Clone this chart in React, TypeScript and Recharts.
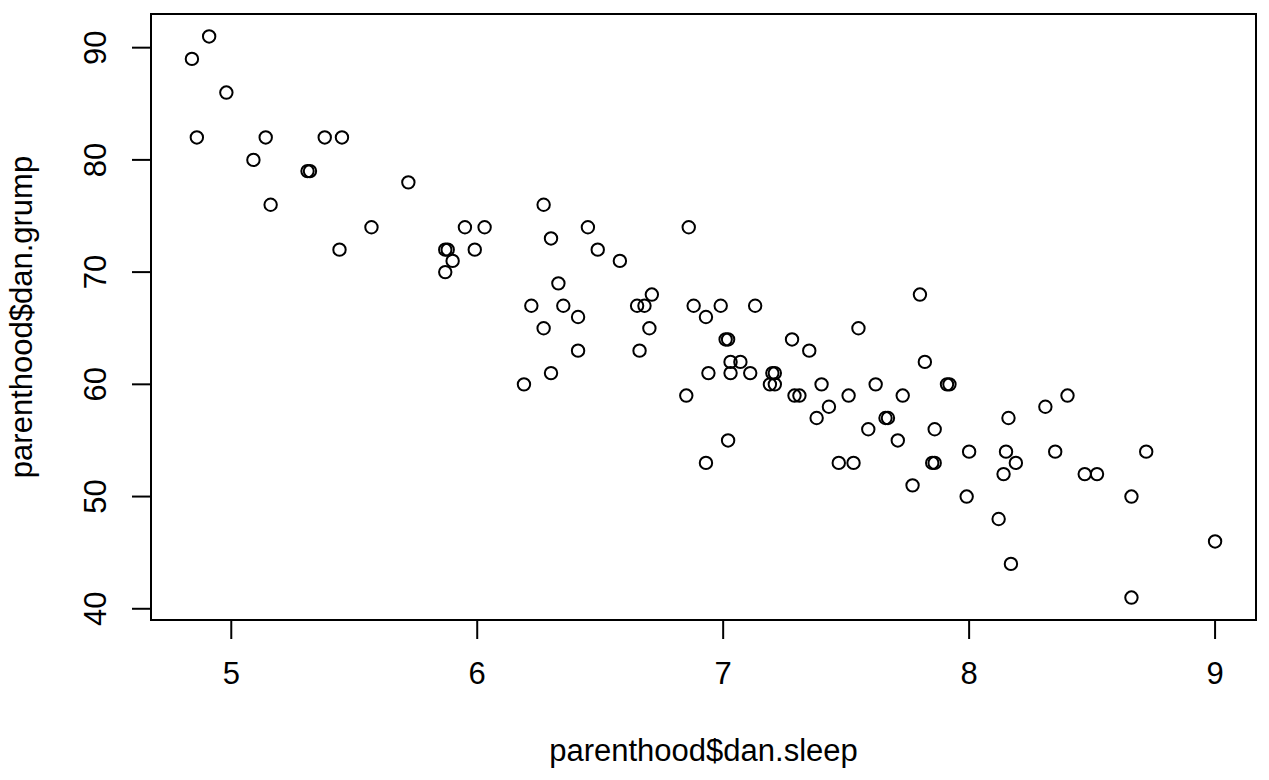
import React from 'react';
import { ScatterChart, Scatter, XAxis, YAxis, ReferenceArea } from 'recharts';

// parenthood$dan.sleep (x) and parenthood$dan.grump (y)
const sleep: number[] = [
  4.91, 4.84, 4.98, 4.86, 5.14, 5.09, 5.31, 5.32, 5.38, 5.45,
  5.72, 5.16, 5.57, 5.44, 6.27, 5.95, 6.03, 6.30, 6.45, 6.86,
  5.87, 5.88, 5.99, 6.49, 5.90, 6.58, 5.87, 6.33, 6.22, 6.35,
  6.41, 6.65, 6.68, 6.71, 6.88, 6.27, 6.70, 6.41, 6.66, 6.30,
  6.19, 6.85, 7.80, 6.99, 7.13, 6.93, 7.55, 7.01, 7.02, 7.28,
  7.35, 7.82, 7.03, 7.07, 6.94, 7.03, 7.11, 7.20, 7.21, 7.19,
  7.21, 7.40, 7.62, 7.91, 7.92, 7.29, 7.31, 7.51, 7.73, 7.43,
  7.38, 7.66, 7.67, 7.59, 7.86, 7.02, 7.71, 6.93, 7.47, 7.53,
  7.85, 7.86, 7.77, 8.40, 8.31, 8.16, 8.00, 8.15, 8.35, 8.72,
  8.19, 8.14, 8.47, 8.52, 7.99, 8.66, 8.12, 9.00, 8.17, 8.66,
];
const grump: number[] = [
  91, 89, 86, 82, 82, 80, 79, 79, 82, 82,
  78, 76, 74, 72, 76, 74, 74, 73, 74, 74,
  72, 72, 72, 72, 71, 71, 70, 69, 67, 67,
  66, 67, 67, 68, 67, 65, 65, 63, 63, 61,
  60, 59, 68, 67, 67, 66, 65, 64, 64, 64,
  63, 62, 62, 62, 61, 61, 61, 61, 61, 60,
  60, 60, 60, 60, 60, 59, 59, 59, 59, 58,
  57, 57, 57, 56, 56, 55, 55, 53, 53, 53,
  53, 53, 51, 59, 58, 57, 54, 54, 54, 54,
  53, 52, 52, 52, 50, 50, 48, 46, 44, 41,
];
const xTicks: number[] = [5, 6, 7, 8, 9];
const yTicks: number[] = [40, 50, 60, 70, 80, 90];
const xLabel = 'parenthood$dan.sleep';
const yLabel = 'parenthood$dan.grump';

const data = sleep.map((s, i) => ({ sleep: s, grump: grump[i] }));

const X_DOMAIN: [number, number] = [4.6736, 9.1664];
const Y_DOMAIN: [number, number] = [39, 93];

const FONT = '"Liberation Sans", Arial, sans-serif';
const FS = 31;

const XTick = (props: any) => {
  const { x, payload } = props;
  return (
    <text x={x} y={684} textAnchor="middle" fontFamily={FONT} fontSize={FS} fill="#000">
      {payload.value}
    </text>
  );
};

const YTick = (props: any) => {
  const { y, payload } = props;
  const bx = 106;
  return (
    <text x={bx} y={y} textAnchor="middle" fontFamily={FONT} fontSize={FS} fill="#000"
      transform={`rotate(-90, ${bx}, ${y})`}>
      {payload.value}
    </text>
  );
};

const Ring = (props: any) => {
  const { cx, cy } = props;
  return <circle cx={cx} cy={cy} r={6.2} fill="none" stroke="#000" strokeWidth={2} />;
};

export default function App() {
  return (
    <div style={{ position: 'absolute', left: 0, top: 0, width: 1269, height: 780, background: '#fff' }}>
      <ScatterChart width={1269} height={780} margin={{ top: 14, right: 13, bottom: 0, left: 0 }}>
        <XAxis
          type="number"
          dataKey="sleep"
          domain={X_DOMAIN}
          ticks={xTicks}
          allowDataOverflow
          height={160}
          axisLine={false}
          tickSize={19}
          tickLine={{ stroke: '#000', strokeWidth: 2 }}
          tick={<XTick />}
          interval={0}
        />
        <YAxis
          type="number"
          dataKey="grump"
          domain={Y_DOMAIN}
          ticks={yTicks}
          allowDataOverflow
          width={151}
          axisLine={false}
          tickSize={19}
          tickLine={{ stroke: '#000', strokeWidth: 2 }}
          tick={<YTick />}
          interval={0}
        />
        <ReferenceArea x1={X_DOMAIN[0]} x2={X_DOMAIN[1]} y1={Y_DOMAIN[0]} y2={Y_DOMAIN[1]}
          fill="none" fillOpacity={0} stroke="#000" strokeWidth={2} strokeOpacity={1} ifOverflow="visible" />
        <Scatter data={data} shape={<Ring />} isAnimationActive={false} />
      </ScatterChart>
      <svg width={1269} height={780} style={{ position: 'absolute', left: 0, top: 0, pointerEvents: 'none' }}>
        <text x={703.5} y={761} textAnchor="middle" fontFamily={FONT} fontSize={FS} fill="#000">{xLabel}</text>
        <text x={32} y={317} textAnchor="middle" fontFamily={FONT} fontSize={FS} fill="#000"
          transform="rotate(-90, 32, 317)">{yLabel}</text>
      </svg>
    </div>
  );
}
